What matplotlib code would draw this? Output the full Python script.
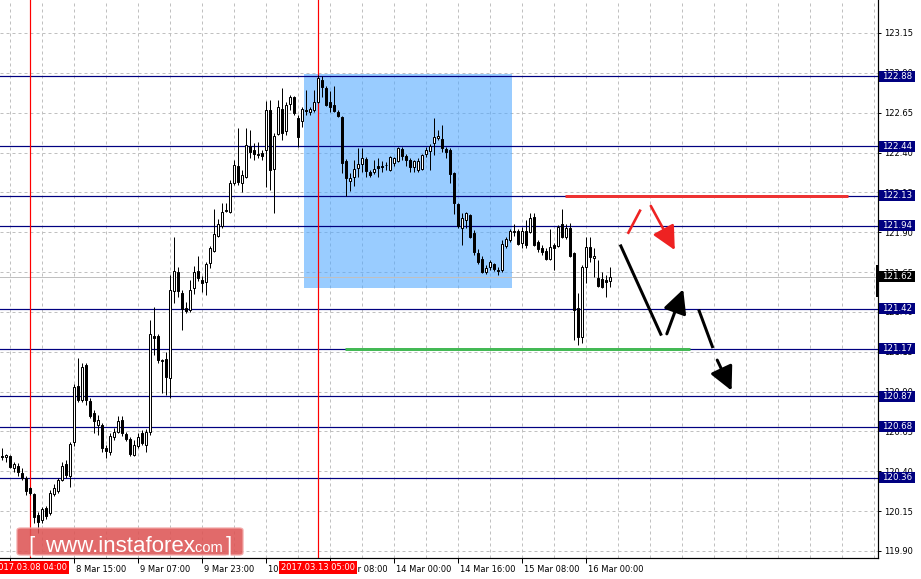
import matplotlib
matplotlib.use("Agg")
import matplotlib.pyplot as plt
import matplotlib.transforms as mtransforms
from matplotlib.patches import Rectangle, FancyBboxPatch
import numpy as np

# H1 candles (bar index 0 = 7 Mar 21:00)
opens = [120.496, 120.490, 120.496, 120.421, 120.433, 120.390, 120.358, 120.296, 120.258, 120.126,
         120.095, 120.170, 120.139, 120.258, 120.277, 120.346, 120.446, 120.371, 120.584, 120.935,
         120.848, 121.067, 120.841, 120.766, 120.691, 120.691, 120.546, 120.521, 120.615, 120.646,
         120.722, 120.634, 120.603, 120.503, 120.559, 120.640, 120.565, 120.646, 121.249, 121.249,
         121.092, 121.105, 120.986, 121.531, 121.651, 121.519, 121.425, 121.412, 121.550, 121.657,
         121.600, 121.588, 121.707, 121.782, 121.876, 121.939, 122.033, 122.027, 122.209, 122.316,
         122.209, 122.247, 122.441, 122.416, 122.385, 122.397, 122.416, 122.667, 122.297, 122.516,
         122.673, 122.535, 122.705, 122.748, 122.617, 122.598, 122.667, 122.654, 122.667, 122.717,
         122.855, 122.805, 122.717, 122.698, 122.654, 122.623, 122.347, 122.221, 122.246, 122.303,
         122.328, 122.360, 122.278, 122.278, 122.316, 122.316, 122.322, 122.290, 122.334, 122.347,
         122.422, 122.378, 122.353, 122.309, 122.290, 122.297, 122.391, 122.410, 122.460, 122.491,
         122.485, 122.422, 122.416, 122.272, 122.077, 121.927, 121.977, 122.008, 121.895, 121.770,
         121.732, 121.651, 121.682, 121.701, 121.663, 121.663, 121.814, 121.851, 121.902, 121.908,
         121.832, 121.908, 121.902, 121.996, 121.839, 121.801, 121.782, 121.732, 121.820, 121.814,
         121.952, 121.870, 121.927, 121.770, 121.425, 121.243, 121.682, 121.807, 121.738, 121.613,
         121.607, 121.600, 121.594]
highs = [120.546, 120.509, 120.503, 120.459, 120.452, 120.421, 120.371, 120.302, 120.264, 120.145,
         120.176, 120.182, 120.283, 120.321, 120.358, 120.459, 120.471, 120.584, 120.948, 121.111,
         121.079, 121.079, 120.860, 120.785, 120.753, 120.703, 120.565, 120.640, 120.672, 120.747,
         120.747, 120.646, 120.615, 120.596, 120.640, 120.659, 120.665, 121.349, 121.431, 121.262,
         121.105, 121.149, 121.632, 121.870, 121.682, 121.537, 121.462, 121.600, 121.688, 121.751,
         121.625, 121.713, 121.814, 122.046, 121.983, 122.083, 122.083, 122.228, 122.353, 122.554,
         122.290, 122.554, 122.541, 122.460, 122.466, 122.416, 122.723, 122.730, 122.522, 122.730,
         122.805, 122.717, 122.761, 122.755, 122.635, 122.686, 122.792, 122.686, 122.792, 122.886,
         122.880, 122.817, 122.786, 122.817, 122.667, 122.629, 122.360, 122.272, 122.353, 122.428,
         122.428, 122.372, 122.290, 122.353, 122.366, 122.347, 122.341, 122.378, 122.372, 122.435,
         122.435, 122.391, 122.366, 122.353, 122.366, 122.391, 122.435, 122.454, 122.617, 122.541,
         122.573, 122.435, 122.428, 122.278, 122.083, 122.021, 122.027, 122.014, 121.914, 121.795,
         121.751, 121.694, 121.726, 121.707, 121.682, 121.851, 121.870, 121.920, 121.952, 121.920,
         121.933, 121.977, 122.021, 122.021, 121.851, 121.820, 121.801, 121.920, 121.832, 121.946,
         122.046, 121.952, 121.958, 121.776, 121.519, 121.694, 121.870, 121.870, 121.801, 121.726,
         121.651, 121.632, 121.682]
lows = [120.471, 120.459, 120.421, 120.396, 120.371, 120.346, 120.252, 120.252, 120.076, 120.013,
        120.076, 120.101, 120.126, 120.245, 120.264, 120.340, 120.358, 120.302, 120.559, 120.835,
        120.835, 120.816, 120.735, 120.640, 120.628, 120.521, 120.484, 120.503, 120.596, 120.640,
        120.621, 120.590, 120.496, 120.496, 120.546, 120.565, 120.521, 120.628, 121.130, 121.079,
        120.891, 120.879, 120.860, 121.456, 121.494, 121.287, 121.393, 121.400, 121.512, 121.594,
        121.525, 121.506, 121.676, 121.776, 121.870, 121.927, 122.027, 122.021, 122.196, 122.196,
        122.152, 122.240, 122.366, 122.353, 122.366, 122.353, 122.184, 122.165, 122.021, 122.510,
        122.479, 122.510, 122.667, 122.635, 122.435, 122.560, 122.635, 122.635, 122.654, 122.711,
        122.748, 122.692, 122.654, 122.654, 122.623, 122.272, 122.127, 122.159, 122.190, 122.247,
        122.278, 122.247, 122.247, 122.265, 122.247, 122.278, 122.290, 122.284, 122.316, 122.341,
        122.353, 122.316, 122.278, 122.278, 122.278, 122.290, 122.372, 122.290, 122.385, 122.479,
        122.403, 122.366, 122.209, 122.014, 121.927, 121.820, 121.927, 121.864, 121.757, 121.701,
        121.644, 121.638, 121.663, 121.657, 121.632, 121.651, 121.801, 121.839, 121.876, 121.820,
        121.801, 121.801, 121.895, 121.814, 121.776, 121.757, 121.726, 121.726, 121.663, 121.807,
        121.864, 121.857, 121.744, 121.224, 121.193, 121.205, 121.581, 121.713, 121.619, 121.556,
        121.550, 121.494, 121.556]
closes = [120.490, 120.503, 120.427, 120.446, 120.396, 120.358, 120.277, 120.264, 120.113, 120.082,
          120.164, 120.120, 120.264, 120.296, 120.346, 120.433, 120.377, 120.571, 120.929, 120.848,
          121.054, 120.848, 120.747, 120.716, 120.722, 120.546, 120.527, 120.621, 120.646, 120.716,
          120.640, 120.603, 120.509, 120.565, 120.615, 120.578, 120.646, 121.262, 121.237, 121.098,
          121.098, 120.992, 121.537, 121.657, 121.531, 121.418, 121.406, 121.537, 121.651, 121.613,
          121.581, 121.701, 121.801, 121.889, 121.952, 122.027, 122.039, 122.209, 122.322, 122.215,
          122.259, 122.447, 122.403, 122.391, 122.391, 122.378, 122.667, 122.290, 122.504, 122.686,
          122.522, 122.698, 122.748, 122.648, 122.497, 122.673, 122.660, 122.673, 122.717, 122.868,
          122.811, 122.698, 122.686, 122.661, 122.629, 122.334, 122.240, 122.240, 122.297, 122.328,
          122.366, 122.284, 122.259, 122.297, 122.303, 122.309, 122.320, 122.372, 122.366, 122.428,
          122.378, 122.353, 122.309, 122.347, 122.347, 122.385, 122.416, 122.441, 122.497, 122.504,
          122.428, 122.403, 122.265, 122.083, 121.939, 121.989, 122.021, 121.870, 121.776, 121.713,
          121.651, 121.676, 121.713, 121.669, 121.657, 121.826, 121.857, 121.908, 121.905, 121.826,
          121.908, 121.820, 121.989, 121.820, 121.795, 121.776, 121.732, 121.807, 121.801, 121.933,
          121.870, 121.927, 121.751, 121.412, 121.243, 121.682, 121.807, 121.744, 121.751, 121.563,
          121.556, 121.588, 121.619]

level_prices = [122.88, 122.44, 122.13, 121.94, 121.42, 121.17, 120.87, 120.68, 120.36]
last_price = 121.62
price_ticks = [119.90, 120.15, 120.40, 120.65, 120.90, 121.15, 121.40, 121.65, 121.90,
               122.15, 122.40, 122.65, 122.90, 123.15]

time_ticks = [2, 18, 34, 50, 66, 82, 98, 114, 130, 146]
time_labels = ["7 Mar 23:00", "8 Mar 15:00", "9 Mar 07:00", "9 Mar 23:00", "10 Mar 15:00",
               "13 Mar 08:00", "14 Mar 00:00", "14 Mar 16:00", "15 Mar 08:00", "16 Mar 00:00"]
vline_bars = [7, 79]
vline_labels = ["2017.03.08 04:00", "2017.03.13 05:00"]

# drawn objects (bar index, price)
zone_box = (75.5, 127.5, 121.55, 122.893)
resist_line = (140.75, 211.5, 122.13)
support_line = (85.75, 172.0, 121.17)
red_stroke = [(156.6, 121.897), (159.5, 122.035)]
red_arrow = [(162.2, 122.065), (168.2, 121.788)]
black_strokes = [[(154.7, 121.814), (164.7, 121.260)], [(174.3, 121.406), (177.6, 121.182)]]
black_arrows = [[(166.2, 121.262), (170.3, 121.542)], [(178.8, 121.098), (182.4, 120.906)]]

plt.rcParams['lines.scale_dashes'] = False
fig = plt.figure(figsize=(9.21, 5.79), dpi=100)
ax = fig.add_axes([0, 21 / 579, 878 / 921, 558 / 579])
ax.set_xlim(-0.5, 219)
ax.set_ylim(119.856, 123.357)

px = 0.72  # one pixel in points
grid_kw = dict(color='#C0C0C0', linewidth=px, linestyle=(0, (3 * px, 3 * px)))
ax.set_yticks(price_ticks)
ax.set_yticklabels(["%.2f" % p for p in price_ticks])
ax.set_xticks(time_ticks)
ax.set_xticklabels(time_labels)
ax.set_xticks(np.arange(2, 219, 8), minor=True)
ax.grid(True, which='both', zorder=0.5, **grid_kw)
ax.set_axisbelow(True)

ax.yaxis.tick_right()
ax.tick_params(axis='y', direction='out', length=2.5, width=px, pad=2, labelsize=6)
ax.tick_params(axis='x', which='major', direction='out', length=3.5, width=px, pad=1.5, labelsize=6)
ax.tick_params(axis='x', which='minor', length=0)
offset = mtransforms.ScaledTranslation(2 / 100, 0, fig.dpi_scale_trans)
for lbl in ax.get_xticklabels():
    lbl.set_horizontalalignment('left')
    lbl.set_transform(lbl.get_transform() + offset)

for side in ['left', 'top']:
    ax.spines[side].set_visible(False)
for side in ['right', 'bottom']:
    ax.spines[side].set_linewidth(1.2 * px)

# blue zone
x0, x1, y0, y1 = zone_box
ax.add_patch(Rectangle((x0, y0), x1 - x0, y1 - y0, facecolor=(85 / 255, 170 / 255, 1.0),
                       alpha=0.6, edgecolor='none', zorder=0.8))

# bid line and levels
ax.axhline(last_price, color='#C0C0C0', linewidth=px, zorder=0.9)
for p in level_prices:
    ax.axhline(p, color='#000080', linewidth=1.2 * px, zorder=1)
for b in vline_bars:
    ax.axvline(b, color='#FF0000', linewidth=1.2 * px, zorder=1)

ax.plot([resist_line[0], resist_line[1]], [resist_line[2]] * 2, color='#EE3333',
        linewidth=3 * px, solid_capstyle='butt', zorder=1.5)
ax.plot([support_line[0], support_line[1]], [support_line[2]] * 2, color='#44B955',
        linewidth=3 * px, solid_capstyle='butt', zorder=1.5)

# candles
idx = np.arange(len(opens))
o = np.array(opens)
c = np.array(closes)
ax.vlines(idx, lows, highs, color='black', linewidth=px, zorder=2)
bottom = np.minimum(o, c)
height = np.maximum(np.abs(c - o), 0.001)
face = ['white' if cc >= oo else 'black' for oo, cc in zip(o, c)]
ax.bar(idx, height, bottom=bottom, width=0.62, color=face, edgecolor='black',
       linewidth=px, zorder=2.1)

# forecast arrows
head = '-|>,head_length=0.9,head_width=0.45'
(sx, sy), (ex, ey) = red_stroke
ax.plot([sx, ex], [sy, ey], color='#EE2222', linewidth=2.6 * px, zorder=3)
(sx, sy), (ex, ey) = red_arrow
ax.annotate('', xy=(ex, ey), xytext=(sx, sy), zorder=3,
            arrowprops=dict(arrowstyle=head, color='#EE2222',
                            lw=2.6 * px, shrinkA=0, shrinkB=0, mutation_scale=16))
for (sx, sy), (ex, ey) in black_strokes:
    ax.plot([sx, ex], [sy, ey], color='black', linewidth=3 * px, zorder=3)
for (sx, sy), (ex, ey) in black_arrows:
    ax.annotate('', xy=(ex, ey), xytext=(sx, sy), zorder=3,
                arrowprops=dict(arrowstyle=head, color='black',
                                lw=3 * px, shrinkA=0, shrinkB=0, mutation_scale=16))

# price boxes on the scale
right_tr = mtransforms.blended_transform_factory(ax.transAxes, ax.transData)
half_h = 5.5 * (123.357 - 119.856) / 558
bx0, bw = 879 / 878, 36 / 878
for p in level_prices + [last_price]:
    fc = 'black' if p == last_price else '#000080'
    ax.add_patch(Rectangle((bx0, p - half_h), bw, 2 * half_h, transform=right_tr,
                           facecolor=fc, edgecolor='none', clip_on=False, zorder=5))
    ax.text(bx0 + bw / 2, p, "%.2f" % p, transform=right_tr, ha='center', va='center',
            color='white', fontsize=6.2, clip_on=False, zorder=6)
ax.add_patch(Rectangle((875.5 / 878, 121.494), 3.5 / 878, 0.2, transform=right_tr,
                       facecolor='black', edgecolor='none', clip_on=False, zorder=5))

# red time boxes
bot_tr = mtransforms.blended_transform_factory(ax.transData, ax.transAxes)
for b, t in zip(vline_bars, vline_labels):
    ax.text(b, -0.0165, t, transform=bot_tr, ha='center', va='center', color='white',
            fontsize=6, clip_on=False, zorder=6,
            bbox=dict(boxstyle='square,pad=0.22', facecolor='#FF0000', edgecolor='none'))

# watermark
wm = FancyBboxPatch((17 / 921, 24 / 579), 226 / 921, 27 / 579,
                    boxstyle='round,pad=0,rounding_size=0.004', transform=fig.transFigure,
                    facecolor='#DD5555', edgecolor='#F2A8A8', linewidth=1, alpha=0.88, zorder=10)
fig.patches.append(wm)
wm_kw = dict(color='white', family='Liberation Sans', va='baseline', ha='left', zorder=11)
fig.text(28 / 921, 27 / 579, "[", fontsize=16, **wm_kw)
fig.text(45 / 921, 27 / 579, "www.instaforex", fontsize=16, **wm_kw)
fig.text(192 / 921, 27 / 579, ".com", fontsize=10.5, **wm_kw)
fig.text(226 / 921, 27 / 579, "]", fontsize=16, **wm_kw)

fig.savefig("out.png", dpi=100)
